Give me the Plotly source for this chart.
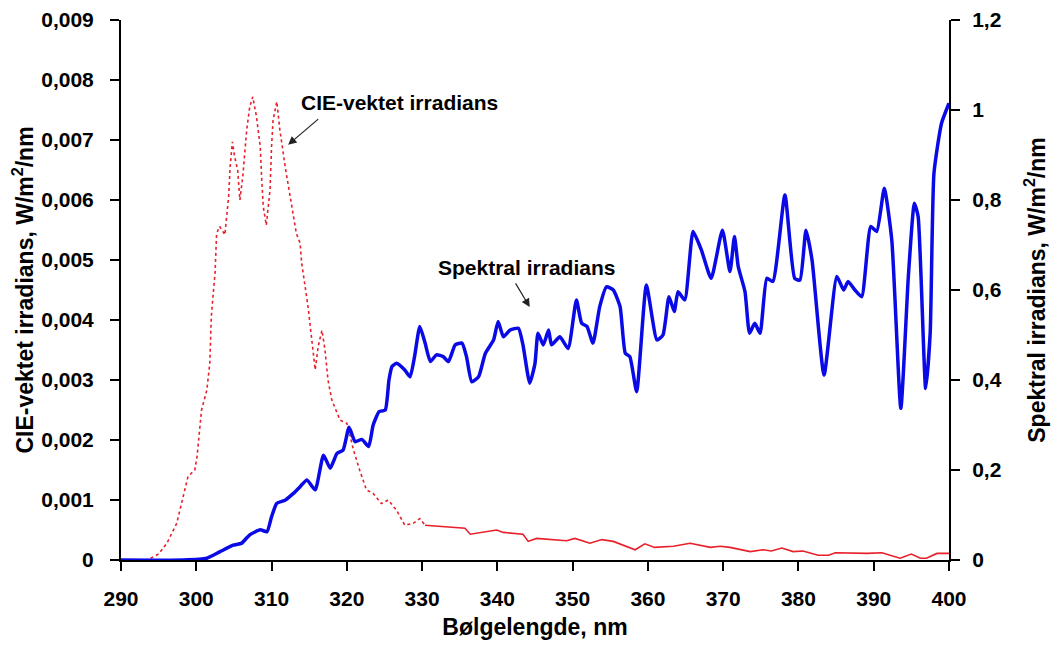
import plotly.graph_objects as go

# -------------------- Data --------------------
# CIE-weighted irradiance, W/m2/nm (left axis)
red_wl = [290, 293.5, 295, 296.1, 297.4, 298.9, 299.8, 300.1, 300.7, 301.4, 301.8, 302.0, 302.5,
          302.7, 303.1, 303.8, 304.3, 304.5, 304.8, 305.1, 305.5, 305.8, 306.2, 306.7, 307.1,
          307.5, 308.0, 308.5, 308.7, 308.9, 309.3, 309.8, 310.0, 310.2, 310.7, 311.1, 311.5,
          311.8, 312.7, 313.3, 313.8, 314.0, 314.4, 314.9, 315.3, 315.8, 316.2, 316.7, 317.1,
          317.5, 318.0, 319.1, 320.0, 320.9, 321.7, 322.6, 323.5, 324.6, 325.5, 326.6, 327.7,
          328.8, 329.7, 330.4, 332.4, 334.6, 335.7, 336.4, 338.1, 339.9, 340.8, 343.4, 344.1,
          345.2, 349.2, 350.3, 352.3, 353.9, 355.4, 358.3, 359.6, 360.9, 363.4, 365.6, 368.3,
          369.6, 370.9, 373.6, 375.3, 376.4, 377.8, 379.3, 380.6, 382.6, 384.0, 384.9, 389.1,
          391.1, 392.4, 393.5, 395.0, 396.2, 397.0, 398.4, 400.0]
red_val = [0, 0, 0.0001, 0.00028, 0.00061, 0.00139, 0.0015, 0.00172, 0.0025, 0.00283, 0.00328,
           0.00406, 0.0048, 0.00544, 0.00556, 0.00542, 0.00606, 0.00656, 0.00697, 0.00672,
           0.0065, 0.006, 0.00642, 0.00717, 0.00755, 0.00772, 0.00739, 0.00689, 0.00633,
           0.00589, 0.00558, 0.00617, 0.00689, 0.00733, 0.00764, 0.00717, 0.00683, 0.00656,
           0.00589, 0.00544, 0.00528, 0.00495, 0.00461, 0.00417, 0.00372, 0.00317, 0.00356,
           0.00383, 0.0035, 0.003, 0.00267, 0.00233, 0.00228, 0.00183, 0.0015, 0.00117,
           0.00111, 0.00094, 0.001, 0.00083, 0.00058, 0.00061, 0.00069, 0.00058, 0.00056,
           0.00053, 0.00053, 0.00043, 0.00047, 0.0005, 0.00046, 0.00043, 0.00031, 0.00036,
           0.00032, 0.00036, 0.00028, 0.00034, 0.00031, 0.00017, 0.00027, 0.00021, 0.00023,
           0.00028, 0.00021, 0.00023, 0.00021, 0.00014, 0.00017, 0.00015, 0.0002, 0.00014,
           0.00015, 0.00008, 0.00008, 0.00012, 0.00011, 0.00012, 0.00007, 0.00003, 0.0001,
           0.00003, 0.00003, 0.00011, 0.00011]

# Spectral irradiance, W/m2/nm (right axis)
blue_wl = [290, 298.3, 301.4, 303.1, 304.9, 306.0, 307.1, 308.5, 309.4, 310.0, 310.7, 311.8,
           312.9, 313.8, 314.7, 315.8, 316.9, 317.8, 318.7, 319.5, 320.3, 321.1, 322.0, 322.9,
           323.5, 324.3, 325.1, 325.6, 326.0, 326.6, 327.7, 328.4, 329.0, 329.7, 330.4, 331.1,
           331.9, 332.8, 333.5, 334.4, 335.3, 335.9, 336.6, 337.5, 338.4, 339.5, 340.1, 340.8,
           341.7, 342.8, 343.4, 344.3, 345.0, 345.4, 346.1, 346.8, 347.2, 348.3, 349.4, 350.5,
           351.2, 351.9, 352.7, 353.6, 354.5, 355.4, 356.3, 357.0, 357.6, 358.5, 359.8, 361.2,
           362.0, 362.8, 363.5, 364.0, 364.9, 366.0, 367.1, 368.4, 369.9, 370.9, 371.5, 372.0,
           372.9, 373.5, 374.2, 374.9, 375.8, 376.6, 378.2, 379.5, 380.2, 381.0, 381.8, 383.4,
           385.1, 386.0, 386.6, 387.5, 388.4, 389.6, 390.4, 391.4, 392.4, 393.6, 394.6, 395.4,
           395.9, 396.9, 397.5, 398.0, 399.0, 400.0]
blue_val = [0, 0, 0.004, 0.018, 0.033, 0.037, 0.056, 0.067, 0.063, 0.096, 0.126, 0.133, 0.148,
            0.163, 0.178, 0.156, 0.233, 0.204, 0.237, 0.244, 0.295, 0.263, 0.268, 0.252, 0.3,
            0.33, 0.333, 0.4, 0.43, 0.437, 0.422, 0.407, 0.452, 0.519, 0.482, 0.441, 0.456,
            0.452, 0.441, 0.478, 0.482, 0.452, 0.396, 0.407, 0.459, 0.489, 0.53, 0.496, 0.511,
            0.515, 0.478, 0.393, 0.437, 0.504, 0.478, 0.511, 0.478, 0.496, 0.47, 0.578, 0.526,
            0.519, 0.482, 0.563, 0.607, 0.6, 0.563, 0.459, 0.452, 0.374, 0.611, 0.489, 0.5,
            0.585, 0.552, 0.596, 0.578, 0.73, 0.689, 0.626, 0.733, 0.641, 0.719, 0.652, 0.596,
            0.504, 0.526, 0.504, 0.626, 0.619, 0.811, 0.626, 0.622, 0.733, 0.667, 0.411, 0.63,
            0.6, 0.619, 0.6, 0.585, 0.741, 0.73, 0.826, 0.711, 0.337, 0.63, 0.793, 0.763,
            0.381, 0.504, 0.859, 0.97, 1.015]

x_ticks = [290, 300, 310, 320, 330, 340, 350, 360, 370, 380, 390, 400]
left_ticks = [0, 0.001, 0.002, 0.003, 0.004, 0.005, 0.006, 0.007, 0.008, 0.009]
left_labels = ["0", "0,001", "0,002", "0,003", "0,004", "0,005", "0,006", "0,007", "0,008", "0,009"]
right_ticks = [0, 0.2, 0.4, 0.6, 0.8, 1.0, 1.2]
right_labels = ["0", "0,2", "0,4", "0,6", "0,8", "1", "1,2"]

# steep part of the CIE curve looks dotted, the tail is a thin solid line
split = next(i for i, w in enumerate(red_wl) if w >= 330)

FONT = "Liberation Sans, Arial, sans-serif"
tickfont = dict(family=FONT, size=21, color="black", weight="bold")
titlefont = dict(family=FONT, size=23, color="black", weight="bold")
notefont = dict(family=FONT, size=21, color="black", weight="bold")

fig = go.Figure()

fig.add_trace(go.Scatter(
    x=red_wl[:split + 1], y=red_val[:split + 1], mode="lines", name="CIE-vektet irradians",
    line=dict(color="#e8202a", width=1.6, dash="dot"), yaxis="y"
))
fig.add_trace(go.Scatter(
    x=red_wl[split:], y=red_val[split:], mode="lines", showlegend=False,
    line=dict(color="#e8202a", width=1.6), yaxis="y"
))
fig.add_trace(go.Scatter(
    x=blue_wl, y=blue_val, mode="lines", name="Spektral irradians",
    line=dict(color="#0a0ae6", width=3.5, shape="spline", smoothing=0.5), yaxis="y2"
))

# -------------------- Annotations --------------------
fig.add_annotation(x=327.0, y=0.00763, xref="x", yref="y", text="CIE-vektet irradians",
                   showarrow=False, font=notefont)
fig.add_annotation(x=312.2, y=0.00692, ax=316.4, ay=0.00737, xref="x", yref="y",
                   axref="x", ayref="y", text="", showarrow=True,
                   arrowhead=2, arrowsize=1.4, arrowwidth=1.2, arrowcolor="#222")
fig.add_annotation(x=343.9, y=0.651, xref="x", yref="y2", text="Spektral irradians",
                   showarrow=False, font=notefont)
fig.add_annotation(x=344.3, y=0.562, ax=342.3, ay=0.618, xref="x", yref="y2",
                   axref="x", ayref="y2", text="", showarrow=True,
                   arrowhead=2, arrowsize=1.4, arrowwidth=1.2, arrowcolor="#222")

# -------------------- Layout --------------------
axis_common = dict(
    showgrid=False, zeroline=False, automargin=False,
    showline=True, linecolor="black", linewidth=2,
    ticks="outside", ticklen=9, tickwidth=1.5, tickcolor="black",
    tickfont=tickfont,
)

# page body adds an 8px offset, so the figure is sized 1054x638
fig.update_layout(
    width=1054, height=638,
    margin=dict(l=113, r=113, t=12, b=86),
    paper_bgcolor="white", plot_bgcolor="white",
    showlegend=False,
    xaxis=dict(
        range=[290, 400], tickvals=x_ticks, ticklabelstandoff=10,
        title=dict(text="Bølgelengde, nm", font=titlefont, standoff=10),
        **axis_common,
    ),
    yaxis=dict(
        range=[0, 0.009], tickvals=left_ticks, ticktext=left_labels, ticklabelstandoff=12,
        title=dict(text="CIE-vektet irradians, W/m<sup>2</sup>/nm", font=titlefont, standoff=4),
        **axis_common,
    ),
    yaxis2=dict(
        range=[0, 1.2], tickvals=right_ticks, ticktext=right_labels, ticklabelstandoff=8,
        overlaying="y", side="right",
        title=dict(text="Spektral irradians, W/m<sup>2</sup>/nm", font=titlefont, standoff=28),
        **axis_common,
    ),
)

fig.write_html("out.html")
